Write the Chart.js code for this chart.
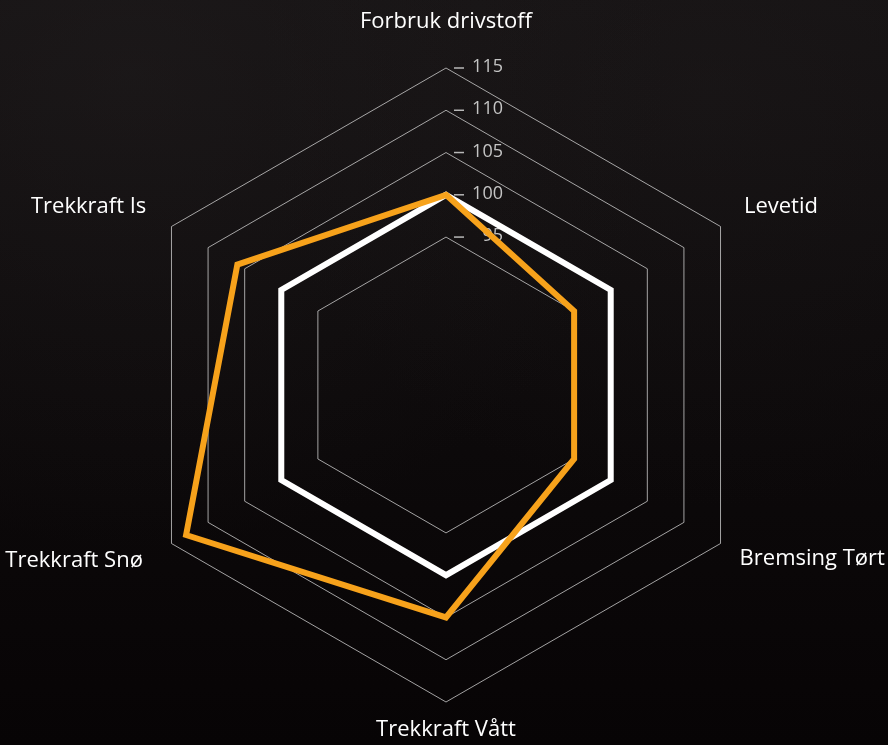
<!DOCTYPE html>
<html>
<head>
<meta charset="utf-8">
<script src="https://cdn.jsdelivr.net/npm/chart.js@4.4.1/dist/chart.umd.min.js"></script>
<style>
html, body { margin: 0; padding: 0; background: #080506; }
#wrap {
    width: 888px; height: 745px; position: relative;
    background:
        radial-gradient(ellipse at 15% 10%, rgba(40,36,37,0.35), rgba(0,0,0,0) 50%),
        radial-gradient(ellipse at 80% 12%, rgba(36,32,33,0.3), rgba(0,0,0,0) 45%),
        linear-gradient(#151213, #0e0b0c 45%, #070405);
}
canvas { display: block; }
</style>
</head>
<body>
<div id="wrap"><canvas id="myChart" width="888" height="745"></canvas></div>
<script>
"use strict";

// categories and values
const labels = ["Forbruk drivstoff", "Levetid", "Bremsing Tørt", "Trekkraft Vått", "Trekkraft Snø", "Trekkraft Is"];
const referanse = [100, 100, 100, 100, 100, 100];
const dekk = [100, 95, 95, 105, 113, 106];
const tickValues = [95, 100, 105, 110, 115];
const scaleMin = 77.5;
const scaleMax = 115;

// label spacing (per axis)
const labelPadding = [37, 27, 22, 26, 33, 29];
const labelLineHeight = ["18px", "12px", "9px", "4px", "1px", "11px"];

const fontFamily = "'Open Sans', sans-serif";

// tick labels sit to the right of the axis, with a small dash
const tickLabels = {
    id: "tickLabels",
    beforeDatasetsDraw(chart) {
        let r = chart.scales.r;
        let ctx = chart.ctx;
        ctx.save();
        ctx.font = "18px " + fontFamily;
        ctx.fillStyle = "#c4c4c4";
        ctx.strokeStyle = "#b8b8b8";
        ctx.lineWidth = 1.5;
        ctx.textAlign = "right";
        ctx.textBaseline = "middle";
        for (let i = 0; i < tickValues.length; i++) {
            let y = r.yCenter - r.getDistanceFromCenterForValue(tickValues[i]);
            ctx.beginPath();
            ctx.moveTo(r.xCenter + 8, y);
            ctx.lineTo(r.xCenter + 18, y);
            ctx.stroke();
            ctx.fillText(tickValues[i], r.xCenter + 57, y - 1);
        }
        ctx.restore();
    }
};

let chart = new Chart(document.getElementById("myChart"), {
    type: "radar",
    data: {
        labels: labels,
        datasets: [
            {
                label: "Dekk",
                data: dekk,
                borderColor: "#f7a21b",
                backgroundColor: "rgba(0,0,0,0)",
                borderWidth: 6,
                pointRadius: 0,
                fill: false
            },
            {
                label: "Referanse",
                data: referanse,
                borderColor: "#ffffff",
                backgroundColor: "rgba(0,0,0,0)",
                borderWidth: 6,
                pointRadius: 0,
                fill: false
            }
        ]
    },
    options: {
        responsive: false,
        animation: false,
        layout: { padding: { top: 0, bottom: 0, left: 2, right: 0 } },
        plugins: { legend: { display: false }, tooltip: { enabled: false } },
        scales: {
            r: {
                min: scaleMin,
                max: scaleMax,
                afterBuildTicks: function (scale) {
                    scale.ticks = [scaleMin].concat(tickValues).map(v => ({ value: v }));
                },
                angleLines: { display: false },
                grid: { color: "rgba(215,215,215,0.75)", lineWidth: 1 },
                ticks: { display: false },
                pointLabels: {
                    color: "#ffffff",
                    font: ctx => ({ family: fontFamily, size: 22, lineHeight: labelLineHeight[ctx.index] }),
                    padding: ctx => labelPadding[ctx.index]
                }
            }
        }
    },
    plugins: [tickLabels]
});
</script>
</body>
</html>
